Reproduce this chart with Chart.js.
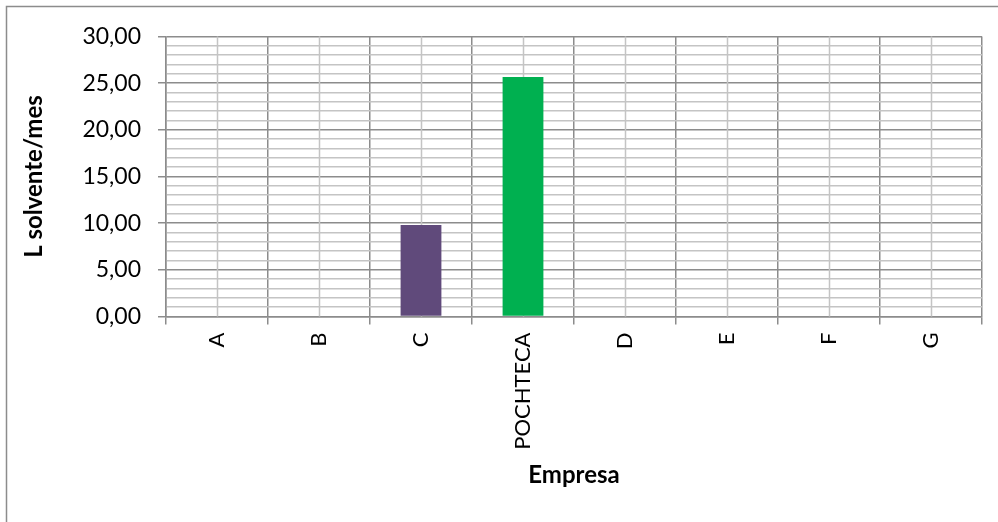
<!DOCTYPE html>
<html>
<head>
<meta charset="utf-8">
<script src="https://cdn.jsdelivr.net/npm/chart.js@4.4.0/dist/chart.umd.min.js"></script>
<style>
    html, body { margin: 0; padding: 0; background: #fff; }
    #wrap { width: 998px; height: 522px; }
</style>
</head>
<body>
<div id="wrap"><canvas id="bar-chart" width="998" height="522"></canvas></div>
<script>
// categorias y valores (L solvente/mes)
var empresas = ['A', 'B', 'C', 'POCHTECA', 'D', 'E', 'F', 'G'];
var litros = [null, null, 9.8, 25.65, null, null, null, null];
var colores = ['#604a7b', '#604a7b', '#604a7b', '#00b050', '#604a7b', '#604a7b', '#604a7b', '#604a7b'];
var yMin = 0, yMax = 30, yMajor = 5, yMinor = 1;

var fontFamily = "Lato, 'Open Sans', sans-serif";

/*
*   marco exterior del grafico
*/
var chartBorder = {
    id: 'chartBorder',
    beforeDraw: function(chart) {
        var ctx = chart.ctx;
        ctx.save();
        ctx.fillStyle = '#ffffff';
        ctx.fillRect(0, 0, chart.width, chart.height);
        ctx.strokeStyle = '#8c8c8c';
        ctx.lineWidth = 1.5;
        ctx.strokeRect(6.5, 6.5, chart.width + 20, chart.height + 20);
        ctx.restore();
    }
};

/*
*   lineas menores verticales en el centro de cada categoria
*/
var centerLines = {
    id: 'centerLines',
    beforeDatasetsDraw: function(chart) {
        var ctx = chart.ctx;
        var area = chart.chartArea;
        var xs = chart.scales.x;
        ctx.save();
        ctx.strokeStyle = '#c4c4c4';
        ctx.lineWidth = 1.5;
        for (var i = 0; i < empresas.length; i++) {
            var px = Math.round(xs.getPixelForValue(i)) + 0.5;
            ctx.beginPath();
            ctx.moveTo(px, area.top);
            ctx.lineTo(px, area.bottom);
            ctx.stroke();
        }
        ctx.restore();
    }
};

var ctx = document.getElementById('bar-chart').getContext('2d');
var barChart = new Chart(ctx, {
    type: 'bar',
    data: {
        labels: empresas,
        datasets: [{
            data: litros,
            backgroundColor: colores,
            borderWidth: 0,
            categoryPercentage: 1.0,
            barPercentage: 0.4
        }]
    },
    options: {
        responsive: false,
        animation: false,
        layout: {
            padding: { left: 0, top: 36.5, right: 16, bottom: 0 }
        },
        plugins: {
            legend: { display: false },
            tooltip: { enabled: false }
        },
        scales: {
            x: {
                offset: true,
                grid: {
                    offset: true,
                    color: '#8c8c8c',
                    lineWidth: 1.5,
                    tickLength: 8,
                    tickColor: '#8c8c8c'
                },
                border: { color: '#8c8c8c', width: 1.5 },
                ticks: {
                    minRotation: 90,
                    maxRotation: 90,
                    autoSkip: false,
                    padding: 8,
                    color: '#000',
                    font: { family: fontFamily, size: 22 }
                },
                title: {
                    display: true,
                    text: 'Empresa',
                    color: '#000',
                    padding: { top: 0, bottom: 32 },
                    font: { family: fontFamily, size: 24, weight: 'bold' }
                },
                afterFit: function(scale) { scale.height = 205.5; }
            },
            y: {
                min: yMin,
                max: yMax,
                grid: {
                    color: function(c) {
                        return c.tick && c.tick.value % yMajor === 0 ? '#8c8c8c' : '#c4c4c4';
                    },
                    tickColor: function(c) {
                        return c.tick && c.tick.value % yMajor === 0 ? '#8c8c8c' : 'rgba(0,0,0,0)';
                    },
                    lineWidth: 1.5,
                    tickLength: 8
                },
                border: { color: '#8c8c8c', width: 1.5 },
                ticks: {
                    stepSize: yMinor,
                    autoSkip: false,
                    padding: 17,
                    color: '#000',
                    font: { family: fontFamily, size: 23 },
                    callback: function(value) {
                        if (value % yMajor !== 0) return '';
                        return value.toFixed(2).replace('.', ',');
                    }
                },
                title: {
                    display: true,
                    text: 'L solvente/mes',
                    color: '#000',
                    padding: { top: 20, bottom: 0 },
                    font: { family: fontFamily, size: 24, weight: 'bold' }
                },
                afterFit: function(scale) { scale.width = 166; }
            }
        }
    },
    plugins: [chartBorder, centerLines]
});
</script>
</body>
</html>
